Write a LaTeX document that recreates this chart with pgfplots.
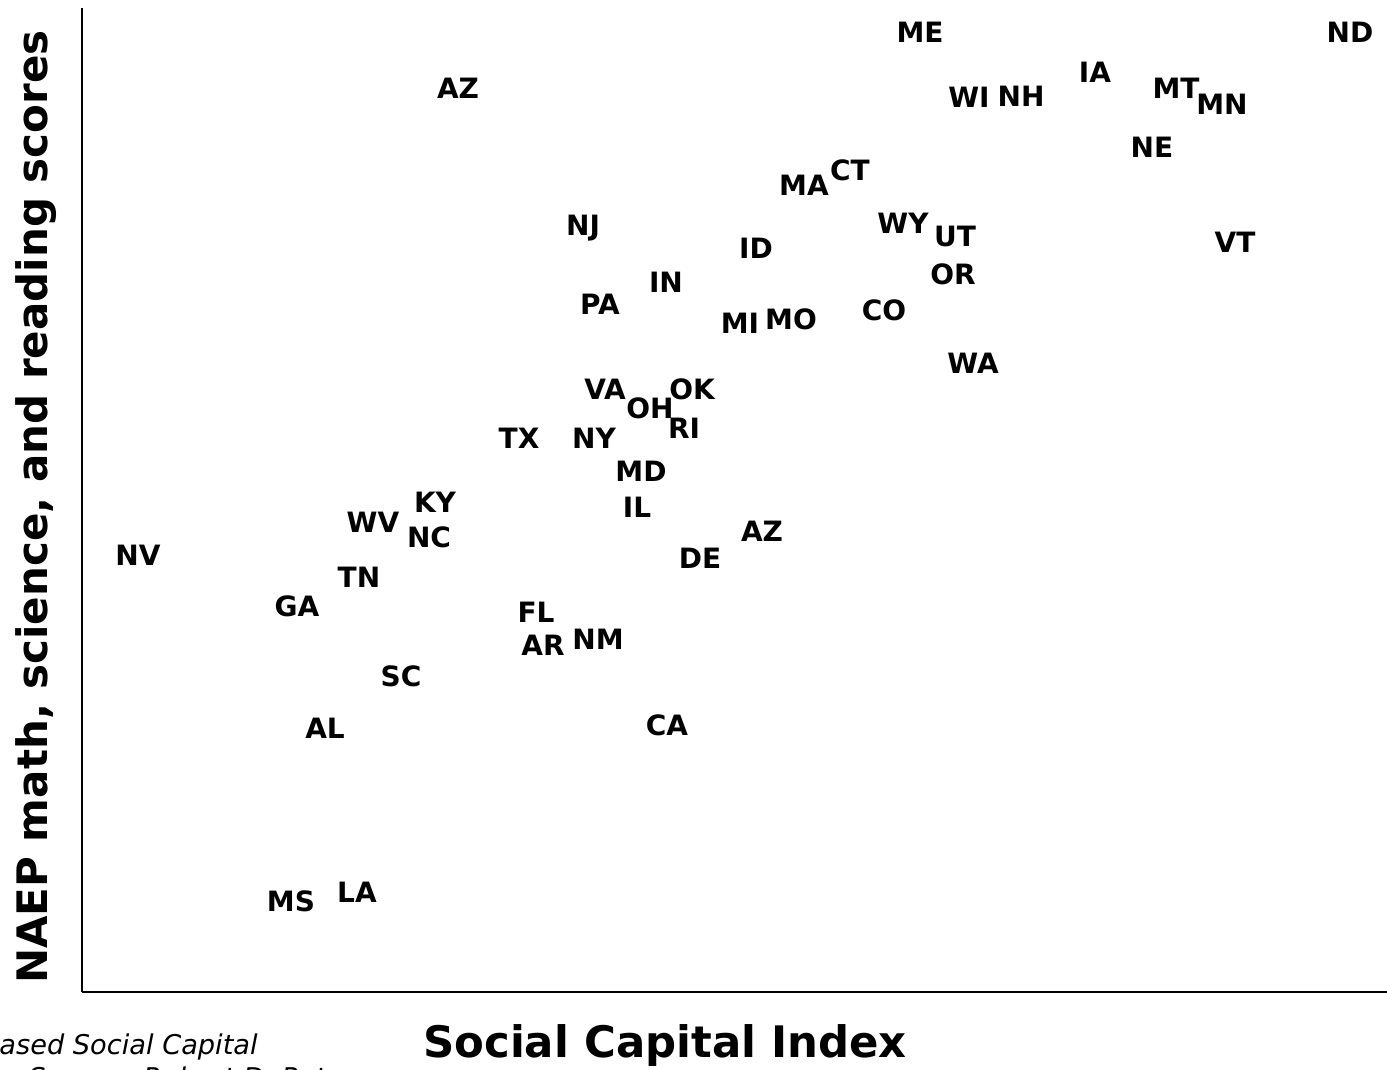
\documentclass[border=0pt]{standalone}
\usepackage{fontspec}
\setmainfont{DejaVu Sans}
\usepackage{pgfplots}
\pgfplotsset{compat=1.18}
\usepackage{pgfplotstable}
\pgfplotstableread{
x y label
920 1038 ME
1350 1038 ND
458 982 AZ
1095 998 IA
1176 982 MT
1222 966 MN
969 973 WI
1021 974 NH
1152 923 NE
850 900 CT
804 885 MA
583 842 NJ
903 847 WY
955 833 UT
1235 828 VT
756 822 ID
666 788 IN
953 796 OR
600 766 PA
740 747 MI
791 751 MO
884 760 CO
973 707 WA
605 681 VA
692 681 OK
650 662 OH
684 642 RI
519 632 TX
594 632 NY
641 599 MD
435 568 KY
637 563 IL
373 548 WV
429 533 NC
762 539 AZ
138 515 NV
700 512 DE
359 493 TN
297 464 GA
536 458 FL
543 425 AR
598 431 NM
401 394 SC
667 345 CA
325 342 AL
357 178 LA
291 169 MS
}\statedata

\begin{document}
\begin{tikzpicture}[x=1pt,y=1pt]
\useasboundingbox (0,0) rectangle (693.5,535);
\begin{axis}[at={(41pt,39pt)}, anchor=south west, scale only axis,
  width=652.5pt, height=492pt,
  xmin=82, xmax=1387, ymin=78, ymax=1062,
  axis x line=bottom, axis y line=left,
  axis line style={line width=1.3pt,-},
  xtick=\empty, ytick=\empty, clip=false]
\addplot[only marks, mark=none,
  nodes near coords, point meta=explicit symbolic,
  nodes near coords style={anchor=center, inner sep=0pt,
    font=\fontsize{14}{14}\selectfont\bfseries}]
  table[x=x, y=y, meta=label]{\statedata};
\end{axis}
\node[rotate=90, anchor=base, font=\fontsize{21}{21}\selectfont\bfseries]
  at (24,281.5) {NAEP math, science, and reading scores};
\node[anchor=base, font=\fontsize{21.7}{21.7}\selectfont\bfseries]
  at (332.5,6) {Social Capital Index};
\node[anchor=base east, inner sep=0pt, font=\fontsize{13.6}{13.6}\selectfont\itshape]
  at (129,7.5) {Index based Social Capital};
\node[anchor=base west, inner sep=0pt, font=\fontsize{13.6}{13.6}\selectfont\itshape]
  at (14,-9) {Source: Robert D. Putnam};
\end{tikzpicture}
\end{document}
